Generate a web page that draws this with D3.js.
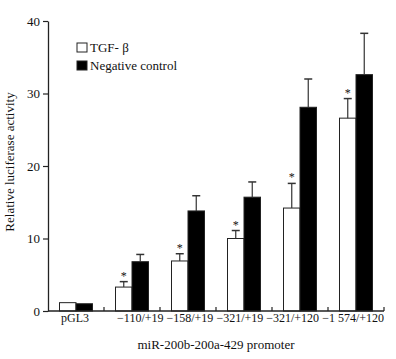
<!DOCTYPE html>
<html>
<head>
<meta charset="utf-8">
<script src="https://cdn.jsdelivr.net/npm/d3@7"></script>
<style>
  body { margin: 0; background: #fff; }
  svg text { font-family: "Liberation Serif", "DejaVu Serif", serif; fill: #111; }
</style>
</head>
<body>
<div id="chart"></div>
<script>
const categories = ['pGL3', '\u2212110/+19', '\u2212158/+19', '\u2212321/+19', '\u2212321/+120', '\u22121 574/+120'];
const tgfValues = [1.15, 3.3, 6.9, 10.0, 14.2, 26.6];
const tgfErrors = [0, 0.75, 1.0, 1.1, 3.4, 2.7];
const negValues = [1.0, 6.8, 13.8, 15.7, 28.1, 32.6];
const negErrors = [0, 1.0, 2.1, 2.1, 3.9, 5.7];
const significant = [false, true, true, true, true, true];
const yTicks = [0, 10, 20, 30, 40];

const W = 396, H = 359;
const margin = { top: 21, right: 12, bottom: 48, left: 48 };
const width = W - margin.left - margin.right;
const height = H - margin.top - margin.bottom;

const svg = d3.select('#chart').append('svg')
  .attr('width', W).attr('height', H);
const g = svg.append('g').attr('transform', `translate(${margin.left},${margin.top})`);

const x0 = d3.scaleBand().domain(categories).range([0, width]).padding(0);
const x1 = d3.scaleBand().domain(['tgf', 'neg']).range([11.5, x0.bandwidth() - 11.5]).padding(0);
const y = d3.scaleLinear().domain([0, 40]).range([height, 0]);

const rows = categories.map((c, i) => ({
  cat: c,
  bars: [
    { key: 'tgf', v: tgfValues[i], e: tgfErrors[i] },
    { key: 'neg', v: negValues[i], e: negErrors[i] }
  ],
  sig: significant[i]
}));

// bars
const grp = g.selectAll('.grp').data(rows).enter().append('g')
  .attr('transform', d => `translate(${x0(d.cat)},0)`);

grp.selectAll('rect').data(d => d.bars).enter().append('rect')
  .attr('x', d => x1(d.key))
  .attr('y', d => y(d.v))
  .attr('width', x1.bandwidth())
  .attr('height', d => height - y(d.v))
  .attr('fill', d => d.key === 'tgf' ? '#fff' : '#000')
  .attr('stroke', '#222')
  .attr('stroke-width', 1);

// error bars
grp.selectAll('.err').data(d => d.bars.filter(b => b.e > 0)).enter().append('g')
  .each(function(d) {
    const cx = x1(d.key) + x1.bandwidth() / 2;
    const e = d3.select(this);
    e.append('line').attr('x1', cx).attr('x2', cx)
      .attr('y1', y(d.v)).attr('y2', y(d.v + d.e))
      .attr('stroke', '#333').attr('stroke-width', 1.2);
    e.append('line').attr('x1', cx - 4).attr('x2', cx + 4)
      .attr('y1', y(d.v + d.e)).attr('y2', y(d.v + d.e))
      .attr('stroke', '#333').attr('stroke-width', 1.5);
  });

// asterisks
grp.filter(d => d.sig).append('text')
  .attr('x', x1('tgf') + x1.bandwidth() / 2)
  .attr('y', d => y(d.bars[0].v + d.bars[0].e) - 2)
  .attr('text-anchor', 'middle')
  .style('font-size', '12px')
  .text('*');

// y axis
const yAxis = d3.axisLeft(y).tickValues(yTicks).tickSize(5).tickSizeOuter(0).tickPadding(3);
const ya = g.append('g').call(yAxis);
ya.select('.domain').attr('stroke', '#222').attr('stroke-width', 1.3);
ya.selectAll('.tick line').attr('stroke', '#222').attr('stroke-width', 1.2);
ya.selectAll('text').style('font-size', '13px').style('font-family', '"Liberation Serif", serif').attr('fill', '#111');

// x axis
const xa = g.append('g').attr('transform', `translate(0,${height})`);
xa.append('line').attr('x1', 0).attr('x2', width).attr('y1', 0).attr('y2', 0)
  .attr('stroke', '#222').attr('stroke-width', 1.3);
xa.selectAll('.xt').data(categories).enter().append('line')
  .attr('x1', d => x0(d) + x0.bandwidth()).attr('x2', d => x0(d) + x0.bandwidth())
  .attr('y1', 0).attr('y2', -4)
  .attr('stroke', '#222').attr('stroke-width', 1.2);

// category labels: crowded, so lay them out right-to-left from the axis end
const xl = xa.selectAll('.xl').data(categories).enter().append('text')
  .attr('class', 'xl')
  .attr('y', 11)
  .attr('text-anchor', 'start')
  .style('font-size', '12px')
  .text(d => d);
let right = width;
const nodes = xl.nodes();
for (let i = nodes.length - 1; i >= 0; i--) {
  const w = nodes[i].getComputedTextLength();
  let left = right - w;
  if (i === 0) left = x0(categories[0]) + x0.bandwidth() / 2 - w / 2 - 1;
  d3.select(nodes[i]).attr('x', left);
  right = left - 3;
}

// axis titles
g.append('text')
  .attr('transform', 'rotate(-90)')
  .attr('x', -(162 - margin.top))
  .attr('y', -margin.left + 14)
  .attr('text-anchor', 'middle')
  .style('font-size', '13px')
  .text('Relative luciferase activity');

g.append('text')
  .attr('x', 216 - margin.left)
  .attr('y', height + 38)
  .attr('text-anchor', 'middle')
  .style('font-size', '13px')
  .text('miR-200b-200a-429 promoter');

// legend
const legend = [
  { label: 'TGF- \u03b2', fill: '#fff' },
  { label: 'Negative control', fill: '#000' }
];
const lg = svg.append('g').attr('transform', 'translate(77,43)');
legend.forEach((d, i) => {
  lg.append('rect').attr('x', 0).attr('y', i * 18).attr('width', 10).attr('height', 9)
    .attr('fill', d.fill).attr('stroke', '#222').attr('stroke-width', 1);
  lg.append('text').attr('x', 13).attr('y', i * 18 + 9)
    .style('font-size', '13px').text(d.label);
});
</script>
</body>
</html>
